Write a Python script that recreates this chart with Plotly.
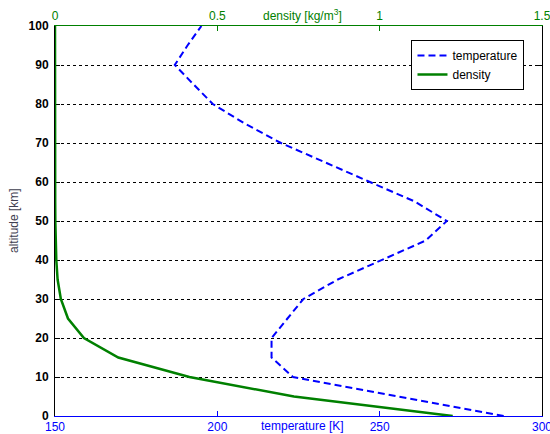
import plotly.graph_objects as go

# ---- data ----
altitude_km = [0, 5, 10, 15, 20, 25, 30, 35, 40, 45, 50,
               55, 60, 65, 70, 75, 80, 85, 90, 95, 100]
temperature_K = [288.2, 255.7, 223.3, 216.7, 216.7, 221.6, 226.5, 237.1, 250.4, 264.2, 270.7,
                 260.8, 247.0, 233.3, 219.6, 208.4, 198.6, 192.7, 186.9, 190.8, 195.1]
density_kgm3 = [1.225, 0.736, 0.414, 0.195, 0.089, 0.040, 0.018, 0.008, 0.004, 0.002, 0.001,
                0.0006, 0.0003, 0.0002, 0.0001, 0.00004, 0.00002, 0.00001, 0.0, 0.0, 0.0]

temp_ticks = [150, 200, 250, 300]
dens_ticks = [0, 0.5, 1, 1.5]
dens_ticktext = ["0", "0.5", "1", "1.5"]
alt_ticks = [0, 10, 20, 30, 40, 50, 60, 70, 80, 90, 100]

BLUE = "#0000ff"
GREEN = "#008000"
FONT = "Liberation Sans, Arial, sans-serif"

fig = go.Figure()
fig.add_trace(go.Scatter(
    x=temperature_K, y=altitude_km, mode="lines", name="temperature",
    line=dict(color=BLUE, width=2, dash="7px,4px"),
    xaxis="x", yaxis="y"))
fig.add_trace(go.Scatter(
    x=density_kgm3, y=altitude_km, mode="lines", name="density",
    line=dict(color=GREEN, width=2.5),
    xaxis="x2", yaxis="y"))

fig.update_layout(
    width=550, height=434,
    margin=dict(l=55, r=8, t=26, b=18),
    paper_bgcolor="white", plot_bgcolor="white",
    font=dict(family=FONT, size=12, color="black"),
    xaxis=dict(
        range=[150, 300], tickvals=temp_ticks, automargin=False,
        ticklabeloverflow="allow",
        tickfont=dict(color=BLUE, size=12, family=FONT),
        showline=True, linecolor=BLUE, linewidth=1,
        ticks="inside", tickcolor=BLUE, ticklen=5,
        showgrid=False, zeroline=False),
    xaxis2=dict(
        range=[0, 1.5], tickvals=dens_ticks, ticktext=dens_ticktext,
        overlaying="x", side="top", automargin=False,
        ticklabeloverflow="allow",
        tickfont=dict(color=GREEN, size=12, family=FONT),
        showline=True, linecolor=GREEN, linewidth=1,
        ticks="inside", tickcolor=GREEN, ticklen=5,
        showgrid=False, zeroline=False),
    yaxis=dict(
        range=[0, 100], tickvals=alt_ticks, automargin=False,
        tickfont=dict(color="black", size=12, family=FONT, weight="bold"),
        showline=True, linecolor="black", linewidth=1, mirror="ticks",
        ticks="inside", tickcolor="black", ticklen=5, ticklabelstandoff=3,
        showgrid=True, gridcolor="black", gridwidth=1, griddash="3px,3px",
        zeroline=False, layer="below traces"),
    legend=dict(
        x=0.732, y=0.964, xanchor="left", yanchor="top",
        bgcolor="white", bordercolor="black", borderwidth=1,
        font=dict(size=12, family=FONT, color="black"),
        tracegroupgap=0, entrywidth=92),
    showlegend=True,
    annotations=[
        dict(text="temperature [K]", xref="paper", yref="paper", x=0.508, y=0,
             yshift=-10, xanchor="center", yanchor="middle", showarrow=False,
             font=dict(color=BLUE, size=12, family=FONT)),
        dict(text="density [kg/m<sup>3</sup>]", xref="paper", yref="paper", x=0.508, y=1,
             yshift=11, xanchor="center", yanchor="middle", showarrow=False,
             font=dict(color=GREEN, size=12, family=FONT)),
        dict(text="altitude [km]", xref="paper", yref="paper", x=0, y=0.5,
             xshift=-41, xanchor="center", yanchor="middle", textangle=-90,
             showarrow=False, font=dict(color="#404050", size=12, family=FONT)),
    ],
)

fig.write_html("out.html", config={"displayModeBar": False},
               post_script="document.body.style.margin='0';document.body.style.overflow='hidden';")
